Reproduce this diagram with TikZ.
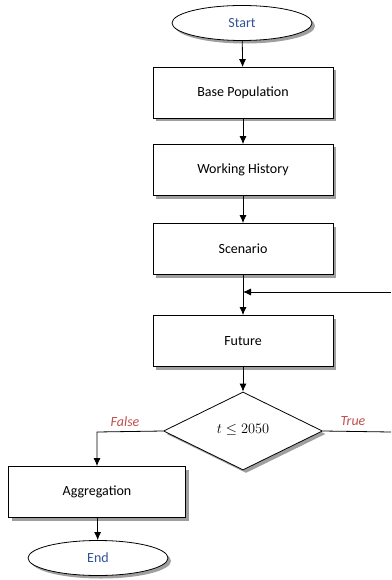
\documentclass[tikz,border=0pt]{standalone}
\usepackage{fontspec}
\setmainfont{Carlito}
\usetikzlibrary{shapes.geometric,shadows,arrows.meta}
\definecolor{startblue}{HTML}{2F5597}
\definecolor{labelred}{HTML}{C0504D}
\tikzset{
  shade/.style={drop shadow={shadow xshift=3pt,shadow yshift=-3pt,fill=gray!75,opacity=1}},
  stepbox/.style={draw,fill=white,shade,minimum width=180pt,minimum height=51pt,inner sep=0pt},
  terminal/.style={draw,ellipse,fill=white,shade,text=startblue,minimum width=140pt,minimum height=35pt,inner sep=0pt},
  decision/.style={draw,diamond,fill=white,shade,minimum width=159pt,minimum height=78pt,inner sep=0pt},
  branch/.style={text=labelred,font=\fontsize{14}{16}\selectfont\itshape}
}
\begin{document}
\begin{tikzpicture}[x=1pt,y=-1pt,line width=0.8pt,font=\fontsize{14}{16}\selectfont,>={Latex[length=8pt,width=7pt]}]
\useasboundingbox (0,0) rectangle (391,580);
\node [terminal] (start) at (242,23) {Start};
\node [stepbox] (base) at (243,93) {Base Population};
\node [stepbox] (work) at (243,170) {Working History};
\node [stepbox] (scen) at (243,249) {Scenario};
\node [stepbox] (fut) at (243,341) {Future};
\node [decision] (test) at (243,431) {\raisebox{4pt}{$t \leq 2050$}};
\node [stepbox,minimum width=177pt] (agg) at (97,492) {Aggregation};
\node [terminal] (end) at (98,558) {End};
\coordinate (loop) at (391,292);
\coordinate (exit) at (391,432);
\coordinate (bend) at (97,432);
\draw [->] (start) -- (base);
\draw [->] (base) -- (work);
\draw [->] (work) -- (scen);
\draw [->] (scen) -- (fut);
\draw [->] (loop) -- (scen.south |- loop);
\draw [->] (fut) -- (test);
\draw (test.east) -- (exit);
\draw [->] (test.west) -- (bend) -- (agg);
\draw [->] (agg) -- (end);
\node [branch] (f) at (125,422) {False};
\node [branch] (t) at (353,421) {True};
\end{tikzpicture}
\end{document}
